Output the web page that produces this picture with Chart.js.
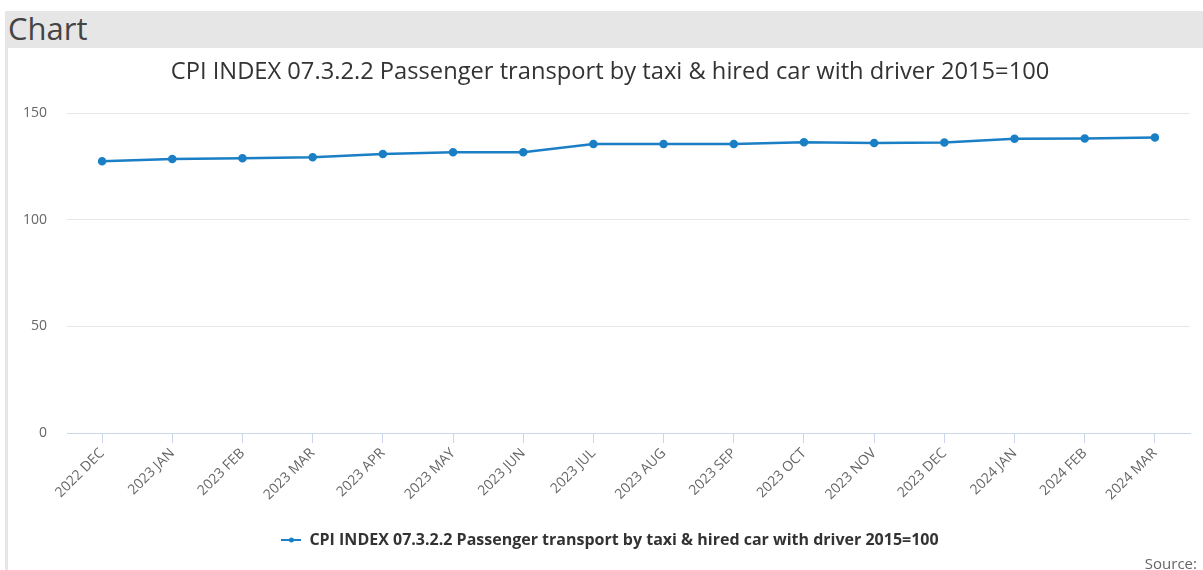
<!DOCTYPE html>
<html>
<head>
<meta charset="utf-8">
<script src="https://cdn.jsdelivr.net/npm/chart.js@4"></script>
<style>
  body { margin: 0; background: #fff; font-family: "Open Sans", sans-serif; overflow: hidden; }
  #frame { position: absolute; left: 5px; top: 11px; width: 1198px; height: 559px; background: #e6e6e6; }
  #head { position: absolute; left: 3px; top: -4px; font-size: 31px; color: #444; }
  #panel { position: absolute; left: 3px; top: 37px; right: 0; bottom: 0; background: #fff; overflow: hidden; }
  #source { position: absolute; right: 6px; top: 553px; font-size: 15px; color: #666; }
</style>
</head>
<body>
<div id="frame">
  <div id="head">Chart</div>
  <div id="panel"><canvas id="cpiChart"></canvas></div>
</div>
<div id="source">Source:</div>
<script>
const seriesName = 'CPI INDEX 07.3.2.2 Passenger transport by taxi & hired car with driver 2015=100';
const months = ['2022 DEC', '2023 JAN', '2023 FEB', '2023 MAR', '2023 APR', '2023 MAY', '2023 JUN', '2023 JUL',
                '2023 AUG', '2023 SEP', '2023 OCT', '2023 NOV', '2023 DEC', '2024 JAN', '2024 FEB', '2024 MAR'];
const cpiValues = [127.4, 128.5, 128.8, 129.3, 130.8, 131.6, 131.6, 135.5,
                   135.5, 135.5, 136.3, 136.0, 136.2, 137.9, 138.1, 138.5];
const yTicks = [0, 50, 100, 150];

const lineColor = '#1a7fc4';

// little line+dot marker for the legend
function legendMarker() {
  let c = document.createElement('canvas');
  c.width = 20; c.height = 10;
  let g = c.getContext('2d');
  g.strokeStyle = lineColor; g.lineWidth = 2;
  g.beginPath(); g.moveTo(0, 5); g.lineTo(20, 5); g.stroke();
  g.fillStyle = lineColor;
  g.beginPath(); g.arc(10, 5, 2.5, 0, Math.PI * 2); g.fill();
  return c;
}

function setupChart() {
  let box = document.getElementById('panel');
  let ctx = document.getElementById('cpiChart');
  // canvas runs a bit past the window edge so the title/legend centre where the original does
  ctx.width = box.clientWidth + 9; ctx.height = box.clientHeight;
  return new Chart(ctx, {
    type: 'line',
    data: {
      labels: months,
      datasets: [{
        label: seriesName,
        data: cpiValues,
        borderColor: lineColor,
        backgroundColor: lineColor,
        borderWidth: 2.5,
        pointRadius: 3,
        pointHoverRadius: 4,
        tension: 0
      }]
    },
    options: {
      responsive: false,
      animation: { duration: 0 },
      layout: { padding: { left: 0, right: 0, top: 0, bottom: 12 } },
      scales: {
        x: {
          offset: true,
          afterFit: s => { s.height = 87; },
          grid: { drawOnChartArea: false, drawTicks: true, tickLength: 10, color: '#ccd6eb' },
          border: { color: '#ccd6eb', width: 1 },
          ticks: { color: '#666', font: { family: 'Open Sans', size: 14 }, maxRotation: 45, minRotation: 45, padding: 2 }
        },
        y: {
          min: 0, max: 150,
          afterFit: s => { s.width = 59; },
          afterBuildTicks: s => { s.ticks = yTicks.map(v => ({ value: v })); },
          grid: { color: '#e6e6e6', drawTicks: false },
          border: { display: false },
          ticks: { color: '#666', font: { family: 'Open Sans', size: 14 }, padding: 20 }
        },
        // empty spacer on the right
        spacer: {
          type: 'linear',
          position: 'right',
          afterFit: s => { s.width = 22; },
          grid: { display: false },
          border: { display: false },
          ticks: { display: false }
        }
      },
      plugins: {
        title: {
          display: true,
          text: seriesName,
          color: '#333',
          font: { family: 'Open Sans', size: 23.7, weight: 'normal' },
          padding: { top: 10, bottom: 26.6 }
        },
        legend: {
          position: 'bottom',
          labels: {
            usePointStyle: true,
            pointStyle: legendMarker(),
            pointStyleWidth: 20,
            color: '#333',
            font: { family: 'Open Sans', size: 16, weight: 'bold' },
            padding: 12
          }
        },
        tooltip: { enabled: false }
      }
    }
  });
}

setupChart();
</script>
</body>
</html>
